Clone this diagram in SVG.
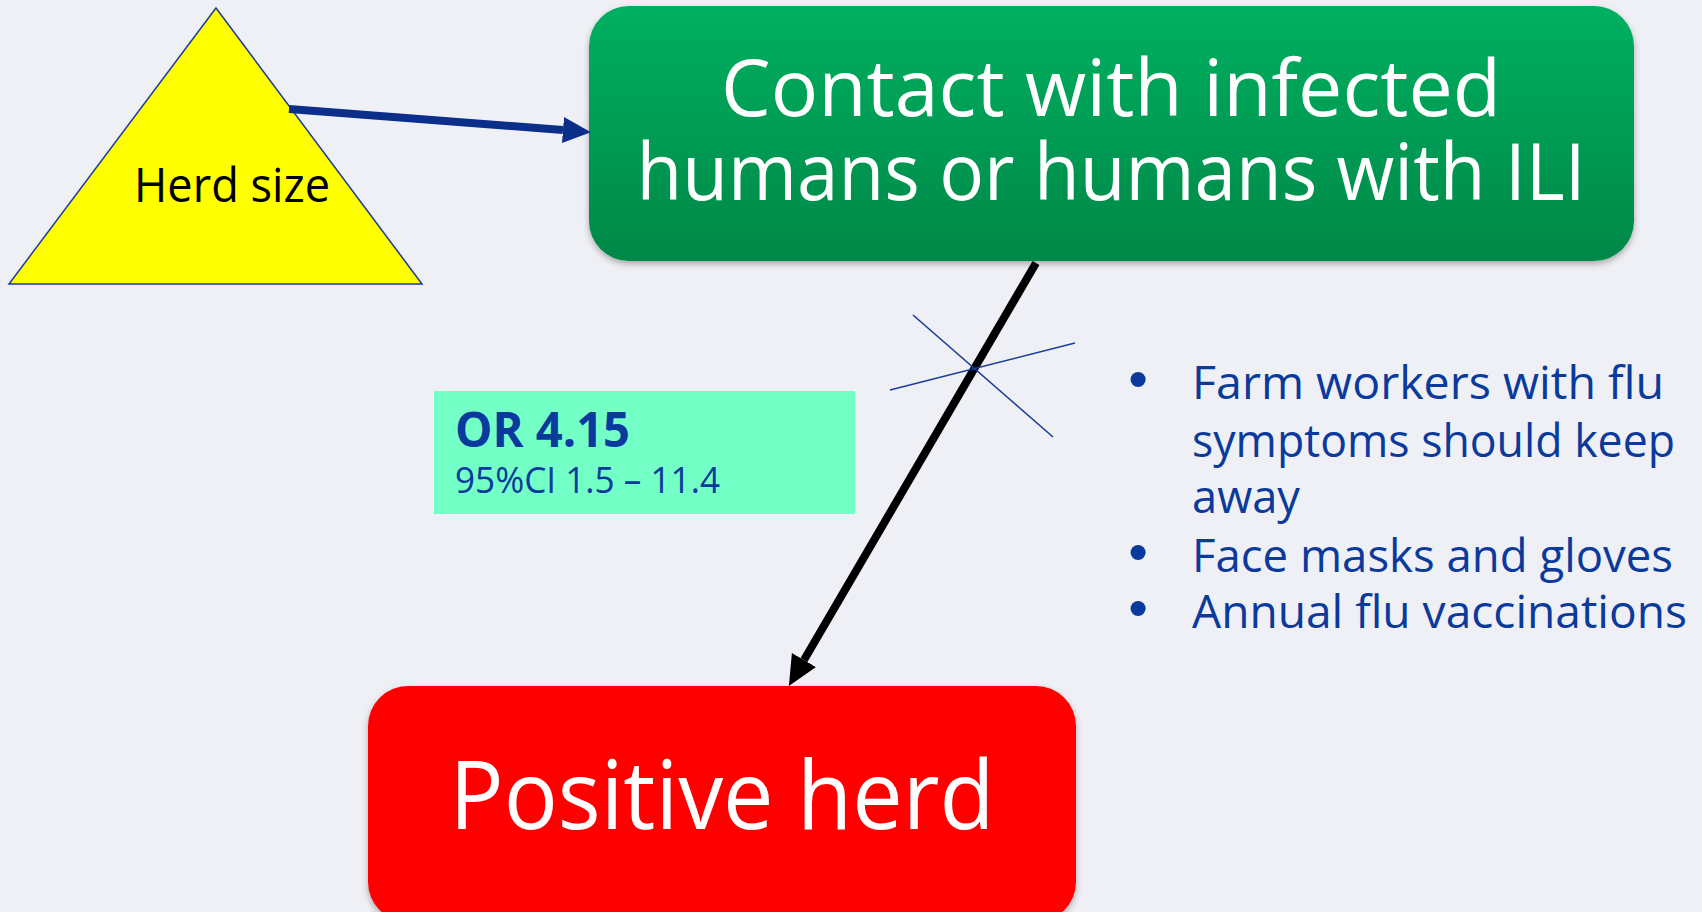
<svg xmlns="http://www.w3.org/2000/svg" width="1702" height="912" viewBox="0 0 1702 912">
<style>
  .big { font-family: "Open Sans", "DejaVu Sans", sans-serif; fill: #ffffff; }
  .blue { font-family: "Open Sans", "DejaVu Sans", sans-serif; fill: #0a3a9c; }
  .dot { font-family: "DejaVu Sans", sans-serif; fill: #0a3a9c; font-size: 52px; }
  .herd { font-family: "Open Sans", "DejaVu Sans", sans-serif; fill: #000000; }
</style>
<defs>
  <linearGradient id="gGreen" x1="0" y1="0" x2="0" y2="1">
    <stop offset="0" stop-color="#00b060"/>
    <stop offset="1" stop-color="#008748"/>
  </linearGradient>
  <filter id="shadow" x="-5%" y="-5%" width="110%" height="120%">
    <feDropShadow dx="0" dy="3" stdDeviation="3" flood-color="#000" flood-opacity="0.3"/>
  </filter>
  <marker id="headBlue" markerUnits="userSpaceOnUse" markerWidth="30" markerHeight="28" refX="0" refY="13" orient="auto">
    <path d="M0,0 L28,13 L0,26 z" fill="#0b2e8a"/>
  </marker>
  <marker id="headBlack" markerUnits="userSpaceOnUse" markerWidth="32" markerHeight="30" refX="0" refY="14" orient="auto">
    <path d="M0,0 L30,14 L0,28 z" fill="#000000"/>
  </marker>
</defs>
<rect x="0" y="0" width="1702" height="912" fill="#eff0f5"/>

<g id="herd-size">
  <polygon points="216,8 9,284 422,284" fill="#ffff00" stroke="#1a3a9a" stroke-width="1.5"/>
  <text class="herd" x="232" y="202" font-size="47" text-anchor="middle" textLength="196" lengthAdjust="spacingAndGlyphs">Herd size</text>
</g>

<g id="contact">
  <rect x="589" y="6" width="1045" height="255" rx="40" ry="40" fill="url(#gGreen)" filter="url(#shadow)"/>
  <text class="big" x="1111" y="116" font-size="78" text-anchor="middle" textLength="780" lengthAdjust="spacingAndGlyphs">Contact with infected</text>
  <text class="big" x="1111" y="200" font-size="78" text-anchor="middle" textLength="949" lengthAdjust="spacingAndGlyphs">humans or humans with ILI</text>
</g>

<g id="positive-herd">
  <rect x="368" y="686" width="708" height="236" rx="40" ry="40" fill="#ff0000" filter="url(#shadow)"/>
  <text class="big" x="722" y="829" font-size="96" text-anchor="middle" textLength="545" lengthAdjust="spacingAndGlyphs">Positive herd</text>
</g>

<g id="odds-ratio">
  <rect x="434" y="391" width="421" height="123" fill="#73ffc6"/>
  <text class="blue" x="455" y="447" font-size="48" font-weight="bold" textLength="175" lengthAdjust="spacingAndGlyphs">OR 4.15</text>
  <text class="blue" x="455" y="493" font-size="36" textLength="265" lengthAdjust="spacingAndGlyphs">95%CI 1.5 – 11.4</text>
</g>

<g id="measures">
  <text class="dot" x="1138" y="399" text-anchor="middle">•</text>
  <text class="blue" x="1192" y="399" font-size="46" textLength="472" lengthAdjust="spacingAndGlyphs">Farm workers with flu</text>
  <text class="blue" x="1192" y="457" font-size="46" textLength="483" lengthAdjust="spacingAndGlyphs">symptoms should keep</text>
  <text class="blue" x="1192" y="513" font-size="46" textLength="108" lengthAdjust="spacingAndGlyphs">away</text>
  <text class="dot" x="1138" y="572" text-anchor="middle">•</text>
  <text class="blue" x="1192" y="572" font-size="46" textLength="481" lengthAdjust="spacingAndGlyphs">Face masks and gloves</text>
  <text class="dot" x="1138" y="628" text-anchor="middle">•</text>
  <text class="blue" x="1192" y="628" font-size="46" textLength="495" lengthAdjust="spacingAndGlyphs">Annual flu vaccinations</text>
</g>

<g id="connectors">
  <line x1="289" y1="109" x2="563" y2="130" stroke="#0b2e8a" stroke-width="8" marker-end="url(#headBlue)"/>
  <line x1="1036" y1="263" x2="804" y2="660" stroke="#000000" stroke-width="8" marker-end="url(#headBlack)"/>
  <line x1="913" y1="315" x2="1053" y2="437" stroke="#1a3c9a" stroke-width="1.6"/>
  <line x1="890" y1="390" x2="1075" y2="343" stroke="#1a3c9a" stroke-width="1.6"/>
</g>
</svg>
